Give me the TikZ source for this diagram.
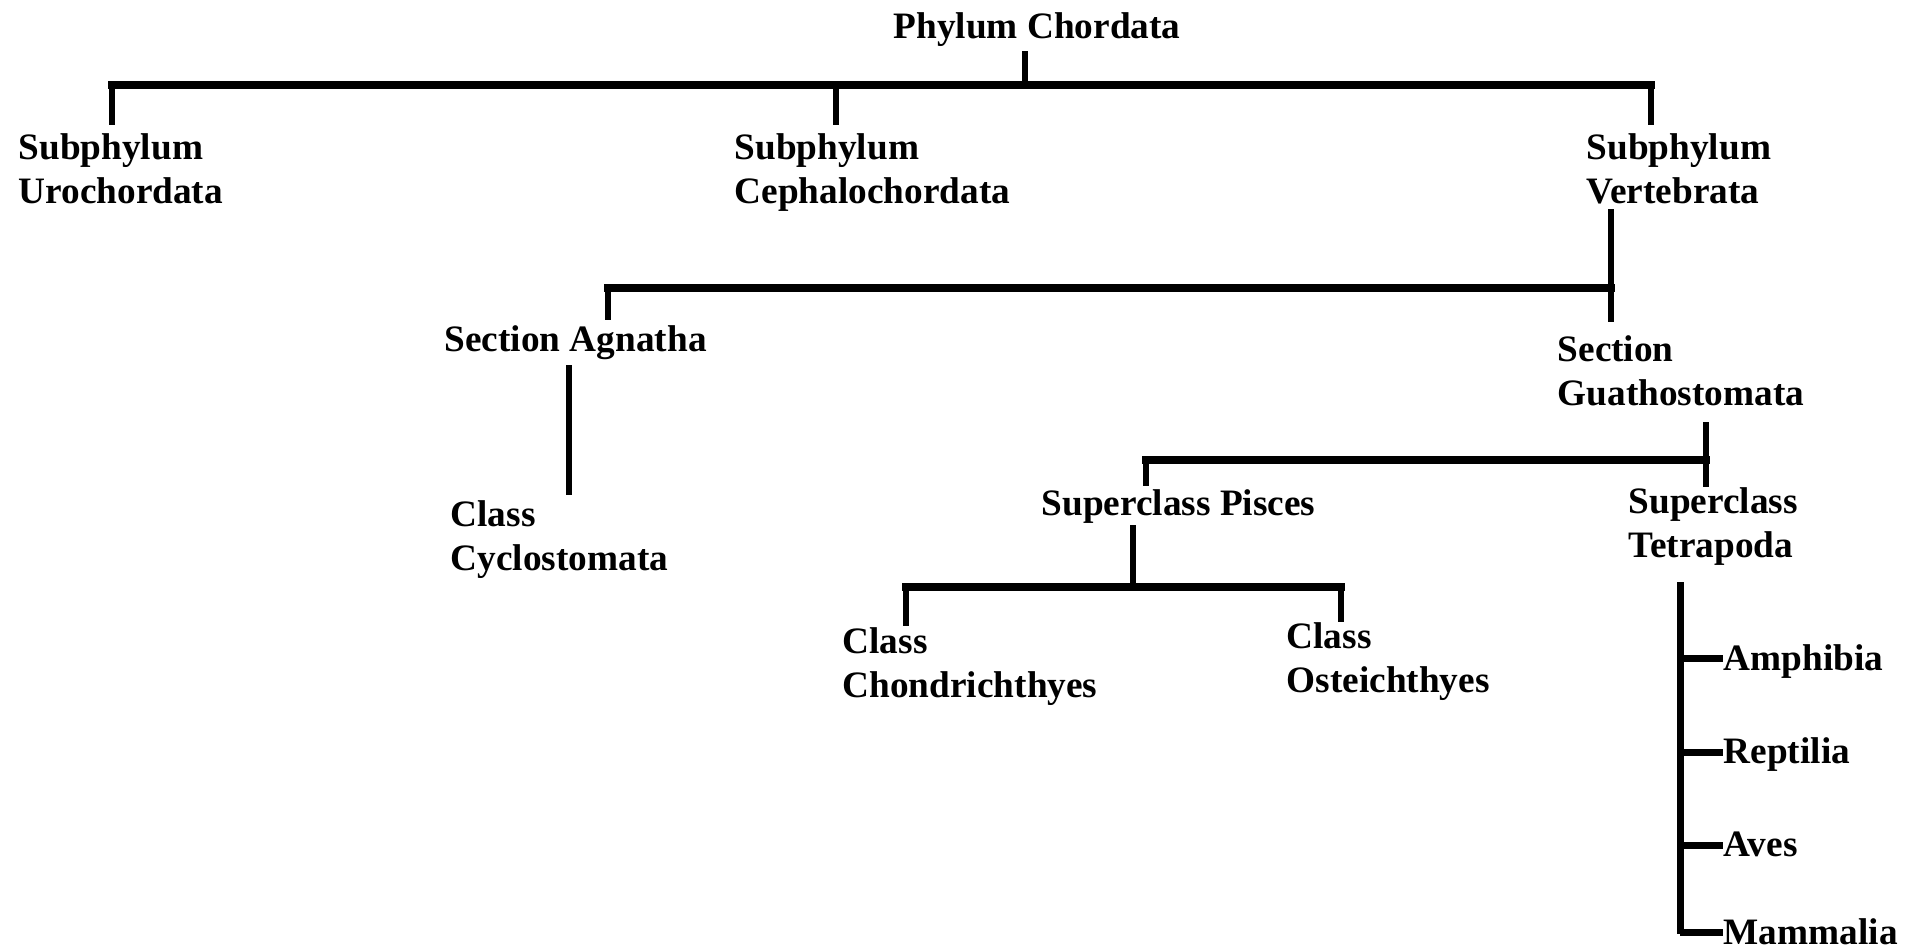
\documentclass[tikz,border=0pt]{standalone}
\usepackage{fontspec}
\setmainfont{Liberation Serif}
\begin{document}
\begin{tikzpicture}[x=0.01cm,y=-0.01cm,
  lbl/.style={anchor=base west, inner sep=0pt, align=left, font=\fontsize{10.6}{12.5}\selectfont\bfseries},
  hl/.style={line width=2.1pt, line cap=rect},
  vl/.style={line width=1.5pt},
  vlt/.style={line width=2pt}]
\useasboundingbox (0,0) rectangle (1906,947);
\fill[white] (0,0) rectangle (1906,947);
% nodes (base anchor = baseline of the last line)
\node[lbl] (phylum) at (893,38) {Phylum Chordata};
\node[lbl] (uro) at (18,203) {Subphylum\\Urochordata};
\node[lbl] (ceph) at (734,203) {Subphylum\\Cephalochordata};
\node[lbl] (vert) at (1586,203) {Subphylum\\Vertebrata};
\node[lbl] (agn) at (444,351) {Section Agnatha};
\node[lbl] (gna) at (1557,405) {Section\\Guathostomata};
\node[lbl] (cyc) at (450,570) {Class\\Cyclostomata};
\node[lbl] (pis) at (1041,515) {Superclass Pisces};
\node[lbl] (tet) at (1628,557) {Superclass\\Tetrapoda};
\node[lbl] (cho) at (842,697) {Class\\Chondrichthyes};
\node[lbl] (ost) at (1286,692) {Class\\Osteichthyes};
\node[lbl] (amp) at (1723,670) {Amphibia};
\node[lbl] (rep) at (1723,763) {Reptilia};
\node[lbl] (ave) at (1723,856) {Aves};
\node[lbl] (mam) at (1723,944) {Mammalia};
% coordinates
\coordinate (phB) at (1025,51);
\coordinate (j0) at (1025,85);
\coordinate (uroT) at (112,125);
\coordinate (cephT) at (836,125);
\coordinate (vertT) at (1651,125);
\coordinate (vertB) at (1611,209);
\coordinate (gnaT) at (1611,322);
\coordinate (agnT) at (608,320);
\coordinate (j1) at (1611,288);
\coordinate (agnB) at (569,365);
\coordinate (cycT) at (569,495);
\coordinate (gnaB) at (1706,422);
\coordinate (tetT) at (1706,487);
\coordinate (j2) at (1706,460);
\coordinate (pisT) at (1146,486);
\coordinate (pisB) at (1133,525);
\coordinate (j3) at (1133,587);
\coordinate (choT) at (906,626);
\coordinate (ostT) at (1341,622);
\coordinate (tetB) at (1680,582);
\coordinate (tetE) at (1680,934);
% top level
\draw[vl] (phB) -- (j0);
\draw[hl] (uroT |- j0) -- (vertT |- j0);
\draw[vl] (uroT |- j0) -- (uroT);
\draw[vl] (cephT |- j0) -- (cephT);
\draw[vl] (vertT |- j0) -- (vertT);
% vertebrata
\draw[vl] (vertB) -- (gnaT);
\draw[hl] (agnT |- j1) -- (j1);
\draw[vl] (agnT |- j1) -- (agnT);
\draw[vl] (agnB) -- (cycT);
% gnathostomata
\draw[vl] (gnaB) -- (tetT);
\draw[hl] (pisT |- j2) -- (j2);
\draw[vl] (pisT |- j2) -- (pisT);
% pisces
\draw[vl] (pisB) -- (j3);
\draw[hl] (choT |- j3) -- (ostT |- j3);
\draw[vl] (choT |- j3) -- (choT);
\draw[vl] (ostT |- j3) -- (ostT);
% tetrapoda
\draw[vlt] (tetB) -- (tetE);
\draw[vlt] (tetB |- 0,658) -- (amp.west |- 0,658);
\draw[vlt] (tetB |- 0,752) -- (rep.west |- 0,752);
\draw[vlt] (tetB |- 0,845) -- (ave.west |- 0,845);
\draw[vlt] (tetB |- 0,932) -- (mam.west |- 0,932);
\end{tikzpicture}
\end{document}
